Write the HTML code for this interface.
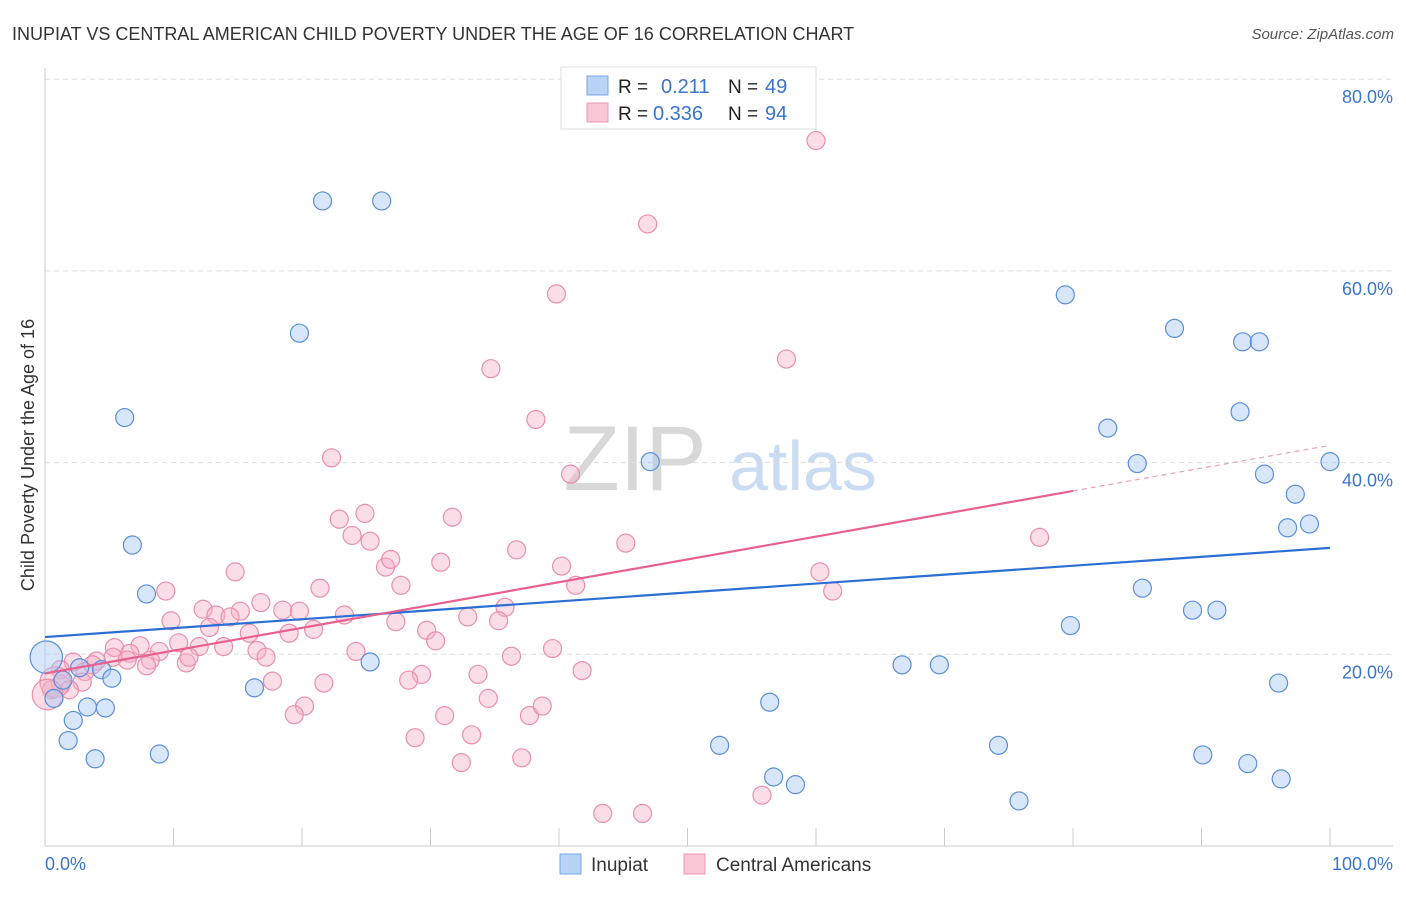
<!DOCTYPE html>
<html><head><meta charset="utf-8"><style>
body{margin:0;background:#fff;font-family:"Liberation Sans",sans-serif}
svg text{font-family:"Liberation Sans",sans-serif}
</style></head><body>
<svg id="c" width="1406" height="892" xmlns="http://www.w3.org/2000/svg">
<text x="12" y="40" font-size="18" fill="#333">INUPIAT VS CENTRAL AMERICAN CHILD POVERTY UNDER THE AGE OF 16 CORRELATION CHART</text>
<text x="1394" y="39" font-size="15" fill="#555" text-anchor="end" font-style="italic">Source: ZipAtlas.com</text>
<text x="635" y="490" font-size="92" fill="#d8d8d8" text-anchor="middle" font-family="Liberation Serif">ZIP</text>
<text x="803" y="490" font-size="70" fill="#c9dcf2" text-anchor="middle">atlas</text>
<g id="grid"></g>
<g id="pts"></g>
<g id="trend"></g>
<text transform="translate(34,455) rotate(-90)" font-size="18" fill="#333" text-anchor="middle">Child Poverty Under the Age of 16</text>
<text x="45" y="870" font-size="18" fill="#3a74d0">0.0%</text>
<text x="1393" y="870" font-size="18" fill="#3a74d0" text-anchor="end">100.0%</text>
<g>
<rect x="561" y="67" width="255" height="62" fill="#fff" stroke="#ddd"/>
<rect x="587" y="76" width="21" height="19" fill="#b8d3f5" stroke="#7aa6e3"/>
<rect x="587" y="103" width="21" height="19" fill="#f9c6d5" stroke="#ec9ab4"/>
<text x="618" y="93" font-size="19" fill="#222">R =</text><text x="661" y="93" font-size="20" fill="#3a74d0">0.211</text>
<text x="728" y="93" font-size="19" fill="#222">N =</text><text x="765" y="93" font-size="20" fill="#3a74d0">49</text>
<text x="618" y="120" font-size="19" fill="#222">R =</text><text x="653" y="120" font-size="20" fill="#3a74d0">0.336</text>
<text x="728" y="120" font-size="19" fill="#222">N =</text><text x="765" y="120" font-size="20" fill="#3a74d0">94</text>
</g>
<g>
<rect x="560" y="854" width="21" height="20" fill="#b8d3f5" stroke="#7aa6e3"/>
<text x="591" y="871" font-size="19" fill="#333">Inupiat</text>
<rect x="684" y="854" width="21" height="20" fill="#f9c6d5" stroke="#ec9ab4"/>
<text x="716" y="871" font-size="19" fill="#333">Central Americans</text>
</g>
</svg>
<script>
const yTicks=[20,40,60,80];
const yTickLabels=["20.0%","40.0%","60.0%","80.0%"];
const xTicks=[0,10,20,30,40,50,60,70,80,90,100];
const blueX=[21.6,26.2,19.8,6.2,6.8,7.9,47.1,79.4,87.9,93.2,94.5,93.0,82.7,85.0,100,94.9,97.3,96.7,98.4,85.4,89.3,91.2,79.8,25.3,16.3,66.7,69.6,56.4,52.5,56.7,58.4,74.2,75.8,90.1,93.6,96.2,96.0,0.1,2.7,4.4,5.2,1.4,0.7,3.3,4.7,2.2,1.8,3.9,8.9];
const blueY=[67.3,67.3,53.5,44.7,31.4,26.3,40.1,57.5,54.0,52.6,52.6,45.3,43.6,39.9,40.1,38.8,36.7,33.2,33.6,26.9,24.6,24.6,23.0,19.2,16.5,18.9,18.9,15.0,10.5,7.2,6.4,10.5,4.7,9.5,8.6,7.0,17.0,19.7,18.6,18.4,17.5,17.3,15.4,14.5,14.4,13.1,11.0,9.1,9.6];
const blueSize=[1,1,1,1,1,1,1,1,1,1,1,1,1,1,1,1,1,1,1,1,1,1,1,1,1,1,1,1,1,1,1,1,1,1,1,1,1,1.8,1,1,1,1,1,1,1,1,1,1,1];
const pinkX=[60.0,46.9,39.8,34.7,57.7,38.2,22.3,40.9,22.9,24.9,31.7,23.9,25.3,26.5,26.9,36.7,45.2,77.4,30.8,40.2,14.8,9.4,27.7,21.4,41.3,60.3,61.3,16.8,12.3,15.2,18.5,19.8,13.3,14.4,23.3,35.8,32.9,35.3,9.8,12.8,20.9,27.3,29.7,15.9,19.0,30.4,10.4,12.0,7.4,5.4,6.6,8.9,5.3,6.4,8.2,13.9,16.5,24.2,39.5,36.3,17.2,11.0,11.2,4.0,7.9,2.2,3.7,1.2,3.1,33.7,29.3,28.3,41.8,17.7,21.7,1.2,0.5,2.9,1.9,34.5,20.2,19.4,31.1,37.7,38.7,28.8,33.2,32.4,37.1,55.8,43.4,46.5,0.8,0.2];
const pinkY=[73.6,64.9,57.6,49.8,50.8,44.5,40.5,38.8,34.1,34.7,34.3,32.4,31.8,29.1,29.9,30.9,31.6,32.2,29.6,29.2,28.6,26.6,27.2,26.9,27.2,28.6,26.6,25.4,24.7,24.5,24.6,24.5,24.1,23.9,24.1,24.9,23.9,23.5,23.5,22.8,22.6,23.4,22.5,22.2,22.2,21.4,21.2,20.8,20.9,20.7,20.1,20.3,19.7,19.4,19.4,20.8,20.4,20.3,20.6,19.8,19.7,19.1,19.7,19.3,18.8,19.2,18.9,18.4,18.2,17.9,17.9,17.3,18.3,17.2,17.0,16.9,16.3,17.1,16.3,15.4,14.6,13.7,13.6,13.6,14.6,11.3,11.6,8.7,9.2,5.3,3.4,3.4,17.1,15.8];
const blueTrend=[21.8,31.1];
const pinkTrend=[18.0,41.8];
const pinkSolidEnd=80;
const NS="http://www.w3.org/2000/svg";
const X=v=>45+v*12.85, Y=v=>846-v*9.585;
function mk(t,a,p){const e=document.createElementNS(NS,t);for(const k in a)e.setAttribute(k,a[k]);p.appendChild(e);return e;}
const g=document.getElementById('grid');
yTicks.forEach((t,i)=>{
 const l=mk('line',{x1:45,x2:1393,y1:Y(t),y2:Y(t),stroke:'#ddd','stroke-dasharray':'5,4'},g);
 
 
 const tx=mk('text',{x:1393,y:Y(t)+24,'font-size':18,fill:'#3a74d0','text-anchor':'end'},g);
 tx.textContent=yTickLabels[i];
 
 
});
const ax=mk('line',{x1:45,x2:1393,y1:846,y2:846,stroke:'#ccc'},g);


const ay=mk('line',{x1:45,x2:45,y1:68,y2:846,stroke:'#ccc'},g);


xTicks.forEach(t=>{
 const l=mk('line',{x1:X(t),x2:X(t),y1:828,y2:846,stroke:'#ccc'},g);
 
 
});
const p=document.getElementById('pts');
pinkX.forEach((v,i)=>{
 const big=(i>=92)?1.7:1;
 const c=mk('circle',{cx:X(v),cy:Y(pinkY[i]),r:9*big,fill:'rgba(246,175,198,0.42)',stroke:'#e98fae','stroke-width':1.2},p);
 
 
});
blueX.forEach((v,i)=>{
 const c=mk('circle',{cx:X(v),cy:Y(blueY[i]),r:9*blueSize[i],fill:'rgba(168,200,242,0.45)',stroke:'#5b8fd9','stroke-width':1.2},p);
 
 
});
const tr=document.getElementById('trend');
const bl=mk('line',{x1:X(0),y1:Y(blueTrend[0]),x2:X(100),y2:Y(blueTrend[1]),stroke:'#2a6fd4','stroke-width':2.2},tr);


const pm=pinkTrend[0]+(pinkTrend[1]-pinkTrend[0])*pinkSolidEnd/100;
const pl=mk('line',{x1:X(0),y1:Y(pinkTrend[0]),x2:X(pinkSolidEnd),y2:Y(pm),stroke:'#e8608f','stroke-width':2.2},tr);


const pd=mk('line',{x1:X(pinkSolidEnd),y1:Y(pm),x2:X(100),y2:Y(pinkTrend[1]),stroke:'#e8a0b8','stroke-width':1.2,'stroke-dasharray':'5,4'},tr);


</script>
</body></html>
